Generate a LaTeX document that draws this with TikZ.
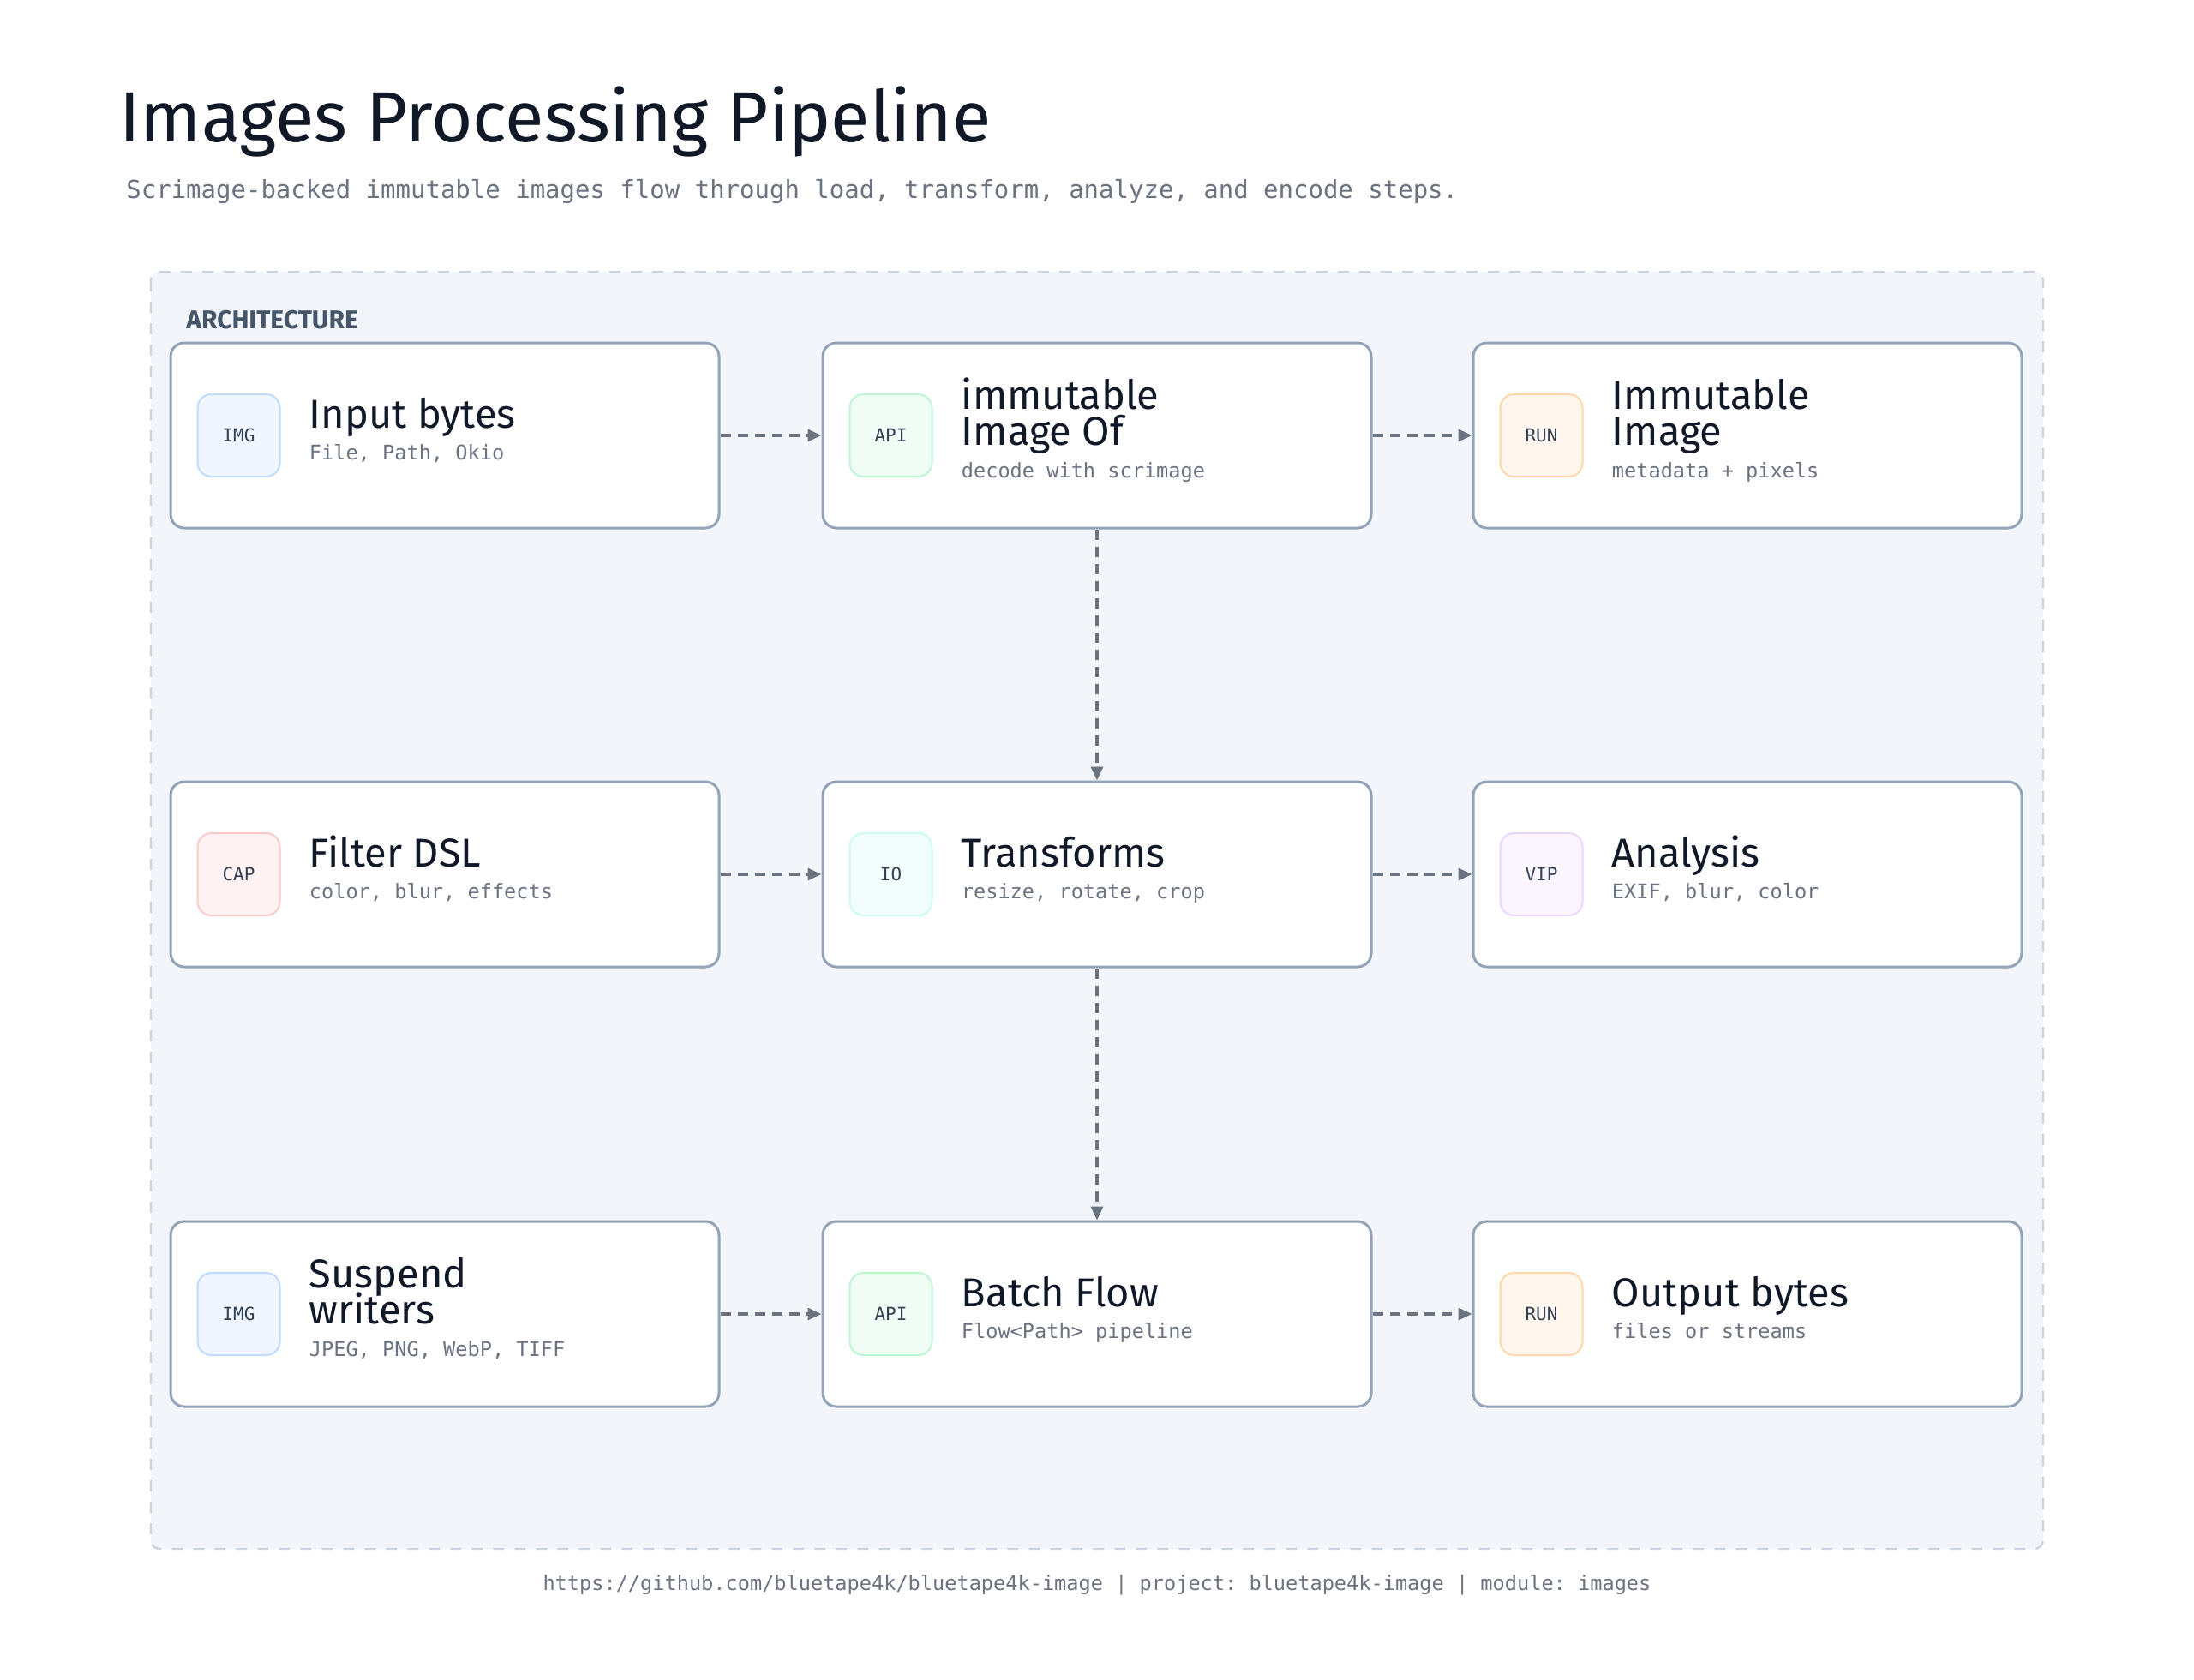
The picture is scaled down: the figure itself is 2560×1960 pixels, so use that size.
\documentclass[tikz,border=0pt]{standalone}
\usepackage{fontspec}
\setmainfont{Fira Sans}
\newfontfamily\hand{Fira Sans}
\newfontfamily\mono{DejaVu Sans Mono}
\usetikzlibrary{calc,arrows.meta}
\frenchspacing
\definecolor{ink}{HTML}{111827}
\definecolor{subgray}{HTML}{6B7280}
\definecolor{archgray}{HTML}{475569}
\definecolor{cardline}{HTML}{94A3B8}
\definecolor{arrowgray}{HTML}{6B7280}
\definecolor{panel}{HTML}{F2F5FA}
\definecolor{panelline}{HTML}{CBD5E1}
\definecolor{icontext}{HTML}{334155}
\definecolor{imgfill}{HTML}{EFF6FF}\definecolor{imgline}{HTML}{BFDBFE}
\definecolor{apifill}{HTML}{F0FDF4}\definecolor{apiline}{HTML}{BBF7D0}
\definecolor{runfill}{HTML}{FFF7ED}\definecolor{runline}{HTML}{FED7AA}
\definecolor{capfill}{HTML}{FEF2F2}\definecolor{capline}{HTML}{FECACA}
\definecolor{iofill}{HTML}{F0FDFA}\definecolor{ioline}{HTML}{CCFBF1}
\definecolor{vipfill}{HTML}{FAF5FF}\definecolor{vipline}{HTML}{E9D5FF}
\tikzset{
  cardbox/.style={draw=cardline, line width=1.5pt, rounded corners=8pt, fill=white,
    minimum width=320pt, minimum height=108pt, inner sep=0pt},
  iconbox/.style={line width=1pt, rounded corners=8pt, minimum width=48pt,
    minimum height=48pt, inner sep=0pt, font=\mono\fontsize{10.5}{12}\selectfont, text=icontext},
  icimg/.style={fill=imgfill, draw=imgline},
  icapi/.style={fill=apifill, draw=apiline},
  icrun/.style={fill=runfill, draw=runline},
  iccap/.style={fill=capfill, draw=capline},
  icio/.style={fill=iofill, draw=ioline},
  icvip/.style={fill=vipfill, draw=vipline},
  ttl/.style={anchor=base west, inner sep=0pt, font=\hand\fontsize{23.5}{25}\selectfont, text=ink},
  subtxt/.style={anchor=base west, inner sep=0pt, font=\mono\fontsize{11.8}{14}\selectfont, text=subgray},
  flow/.style={draw=arrowgray, line width=1.6pt, dash pattern=on 6pt off 4pt,
    -{Triangle[length=8pt,width=7pt]}},
}
\newcommand\cardone[6]{%
  \node[cardbox] (#1) at (#2) {};
  \node[iconbox,#4] (#1i) at ($(#1.west)+(81,0)$) {#3};
  \node[ttl] (#1t) at ($(#1.west)+(163,-9)$) {#5};
  \node[subtxt] (#1s) at ($(#1.west)+(163,28)$) {#6};}
\newcommand\cardtwo[7]{%
  \node[cardbox] (#1) at (#2) {};
  \node[iconbox,#4] (#1i) at ($(#1.west)+(81,0)$) {#3};
  \node[ttl] (#1t) at ($(#1.west)+(163,-31)$) {#5};
  \node[ttl] (#1u) at ($(#1.west)+(163,11)$) {#6};
  \node[subtxt] (#1s) at ($(#1.west)+(163,49)$) {#7};}
\begin{document}
\begin{tikzpicture}[x=0.5pt,y=-0.5pt]
\path[use as bounding box, fill=white] (0,0) rectangle (2560,1960);
\node[anchor=base west, inner sep=0pt, font=\hand\fontsize{41.5}{45}\selectfont, text=ink] (title) at (139,165) {Images Processing Pipeline};
\node[anchor=base west, inner sep=0pt, font=\mono\fontsize{14.5}{17}\selectfont, text=subgray] (subtitle) at (147,231) {Scrimage-backed immutable images flow through load, transform, analyze, and encode steps.};
\draw[fill=panel, draw=panelline, line width=1.2pt, dash pattern=on 6.5pt off 6pt, rounded corners=5pt] (176,317) rectangle (2384,1807);
\node[anchor=base west, inner sep=0pt, font=\hand\bfseries\fontsize{15}{18}\selectfont, text=archgray] (arch) at (217,383) {ARCHITECTURE};
\cardone{b11}{519,508}{IMG}{icimg}{Input bytes}{File, Path, Okio}
\cardtwo{b12}{1280,508}{API}{icapi}{immutable}{Image Of}{decode with scrimage}
\cardtwo{b13}{2039,508}{RUN}{icrun}{Immutable}{Image}{metadata + pixels}
\cardone{b21}{519,1020}{CAP}{iccap}{Filter DSL}{color, blur, effects}
\cardone{b22}{1280,1020}{IO}{icio}{Transforms}{resize, rotate, crop}
\cardone{b23}{2039,1020}{VIP}{icvip}{Analysis}{EXIF, blur, color}
\cardtwo{b31}{519,1533}{IMG}{icimg}{Suspend}{writers}{JPEG, PNG, WebP, TIFF}
\cardone{b32}{1280,1533}{API}{icapi}{Batch Flow}{Flow<Path> pipeline}
\cardone{b33}{2039,1533}{RUN}{icrun}{Output bytes}{files or streams}
\draw[flow] (b11) -- (b12);
\draw[flow] (b12) -- (b13);
\draw[flow] (b12) -- (b22);
\draw[flow] (b21) -- (b22);
\draw[flow] (b22) -- (b23);
\draw[flow] (b22) -- (b32);
\draw[flow] (b31) -- (b32);
\draw[flow] (b32) -- (b33);
\node[anchor=base, inner sep=0pt, font=\mono\fontsize{11.8}{14}\selectfont, text=subgray] (footer) at (1280,1855) {https://github.com/bluetape4k/bluetape4k-image | project: bluetape4k-image | module: images};
\end{tikzpicture}
\end{document}
